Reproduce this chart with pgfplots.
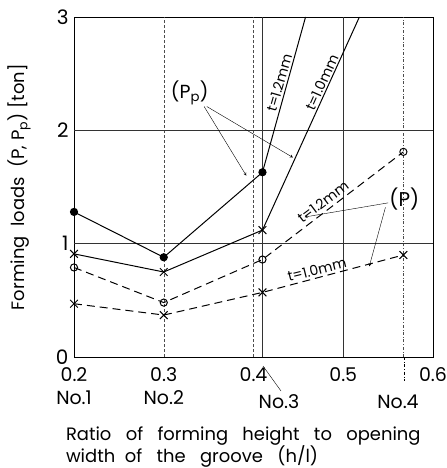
\documentclass[border=0pt]{standalone}
\usepackage{fontspec}
\setmainfont{Poppins}
\usepackage{pgfplots}
\pgfplotsset{compat=1.18}
\begin{document}
\begin{tikzpicture}
\begin{axis}[
  name=main,
  scale only axis, width=359bp, height=340bp,
  xmin=0.2, xmax=0.6, ymin=0, ymax=3,
  xtick={0.2,0.3,0.4,0.5,0.6},
  xticklabels={{0.2\\No.1},{0.3\\No.2},{0.4},{0.5},{0.6}},
  xticklabel style={align=center, font=\fontsize{19}{23}\selectfont, yshift=-7bp},
  ytick={0,1,2,3},
  yticklabel style={font=\fontsize{20}{22}\selectfont, xshift=-2pt},
  /pgf/number format/assume math mode=true,
  tick style={draw=none},
  axis line style={line width=0.6pt},
  clip=true,
  ylabel={Forming\ \ loads\ \ (P, P\textsubscript{p})\ [ton]},
  ylabel style={font=\fontsize{18}{20}\selectfont, at={(axis description cs:-0.152,0.5)}, anchor=center},
  xlabel={Ratio\ \ \ of\ \ \ forming\ \ \ height\ \ \ to\ \ \ opening\\width\ \ of\ \ \ the\ \ \ groove\ \ \ (h/l)},
  xlabel style={align=left, font=\fontsize{18}{22}\selectfont, at={(axis description cs:-0.032,-0.196)}, anchor=north west},
]
\coordinate (SW) at (rel axis cs:0,0);
\coordinate (NE) at (rel axis cs:1,1);
% grid
\draw[thin, black!70, densely dashed] (axis cs:0.3,0) -- (axis cs:0.3,3);
\draw[thin, black!70, densely dashed] (axis cs:0.4,0) -- (axis cs:0.4,3);
\draw[thin, black!80] (axis cs:0.41,0) -- (axis cs:0.41,3);
\draw[thin, black!80] (axis cs:0.5,0) -- (axis cs:0.5,3);
\draw[thin, black!70, dash dot] (axis cs:0.567,0) -- (axis cs:0.567,3);
\draw[thin, black!80] (axis cs:0.2,1) -- (axis cs:0.6,1);
\draw[thin, black!80] (axis cs:0.2,2) -- (axis cs:0.6,2);
% Pp t=1.2
\addplot[black, line width=1pt, mark=*, mark size=3.6pt, mark options={solid, fill=black}]
  coordinates {(0.2,1.28) (0.3,0.88) (0.41,1.63)};
\addplot[black, line width=1pt] coordinates {(0.41,1.63) (0.458,3)};
% Pp t=1.0
\addplot[black, line width=1pt, mark=x, mark size=5.5pt, mark options={solid}]
  coordinates {(0.2,0.91) (0.3,0.75) (0.41,1.12)};
\addplot[black, line width=1pt] coordinates {(0.41,1.12) (0.518,3)};
% P t=1.2
\addplot[black, line width=1pt, dash pattern=on 8pt off 5pt, mark=o, mark size=3.6pt, mark options={solid, fill=white}]
  coordinates {(0.2,0.79) (0.3,0.48) (0.41,0.86) (0.567,1.81)};
% P t=1.0
\addplot[black, line width=1pt, dash pattern=on 8pt off 5pt, mark=x, mark size=5.5pt, mark options={solid}]
  coordinates {(0.2,0.47) (0.3,0.37) (0.41,0.57) (0.567,0.90)};
% annotations
\node[font=\fontsize{19}{21}\selectfont] at (axis cs:0.329,2.33) {(P\textsubscript{p})};
\draw[thin, ->, >=stealth] (axis cs:0.345,2.21) -- (axis cs:0.392,1.60);
\draw[thin, ->, >=stealth] (axis cs:0.348,2.21) -- (axis cs:0.444,1.76);
\node[font=\fontsize{14}{16}\selectfont, rotate=74, anchor=south, inner sep=2.5pt] at (axis cs:0.437,2.40) {t=1.2mm};
\node[font=\fontsize{14}{16}\selectfont, rotate=66, anchor=south, inner sep=1pt] at (axis cs:0.483,2.40) {t=1.0mm};
\node[font=\fontsize{14}{16}\selectfont, rotate=37, inner sep=0pt] at (axis cs:0.4775,1.37) {t=1.2mm};
\node[font=\fontsize{20}{22}\selectfont] at (axis cs:0.568,1.39) {(P)};
\draw[thin, ->, >=stealth] (axis cs:0.55,1.36) -- (axis cs:0.457,1.235);
\draw[thin, ->, >=stealth] (axis cs:0.547,1.32) -- (axis cs:0.529,0.80);
\node[font=\fontsize{14}{16}\selectfont, rotate=14, inner sep=0pt] at (axis cs:0.4707,0.77) {t=1.0mm};
\end{axis}
% No.3 and No.4 labels below axis
\node[font=\fontsize{19}{21}\selectfont] at ([xshift=205bp,yshift=-45bp]SW) {No.3};
\node[font=\fontsize{19}{21}\selectfont] at ([xshift=324bp,yshift=-45bp]SW) {No.4};
\draw[thin] ([xshift=189bp,yshift=-9bp]SW) -- ++(18bp,-25bp);
\draw[thin, dash dot] ([xshift=330bp]SW) -- ++(0,-24bp);
\pgfresetboundingbox
\path[use as bounding box] ([xshift=-74bp,yshift=-111bp]SW) rectangle ([xshift=14bp,yshift=17bp]NE);
\end{tikzpicture}
\end{document}
